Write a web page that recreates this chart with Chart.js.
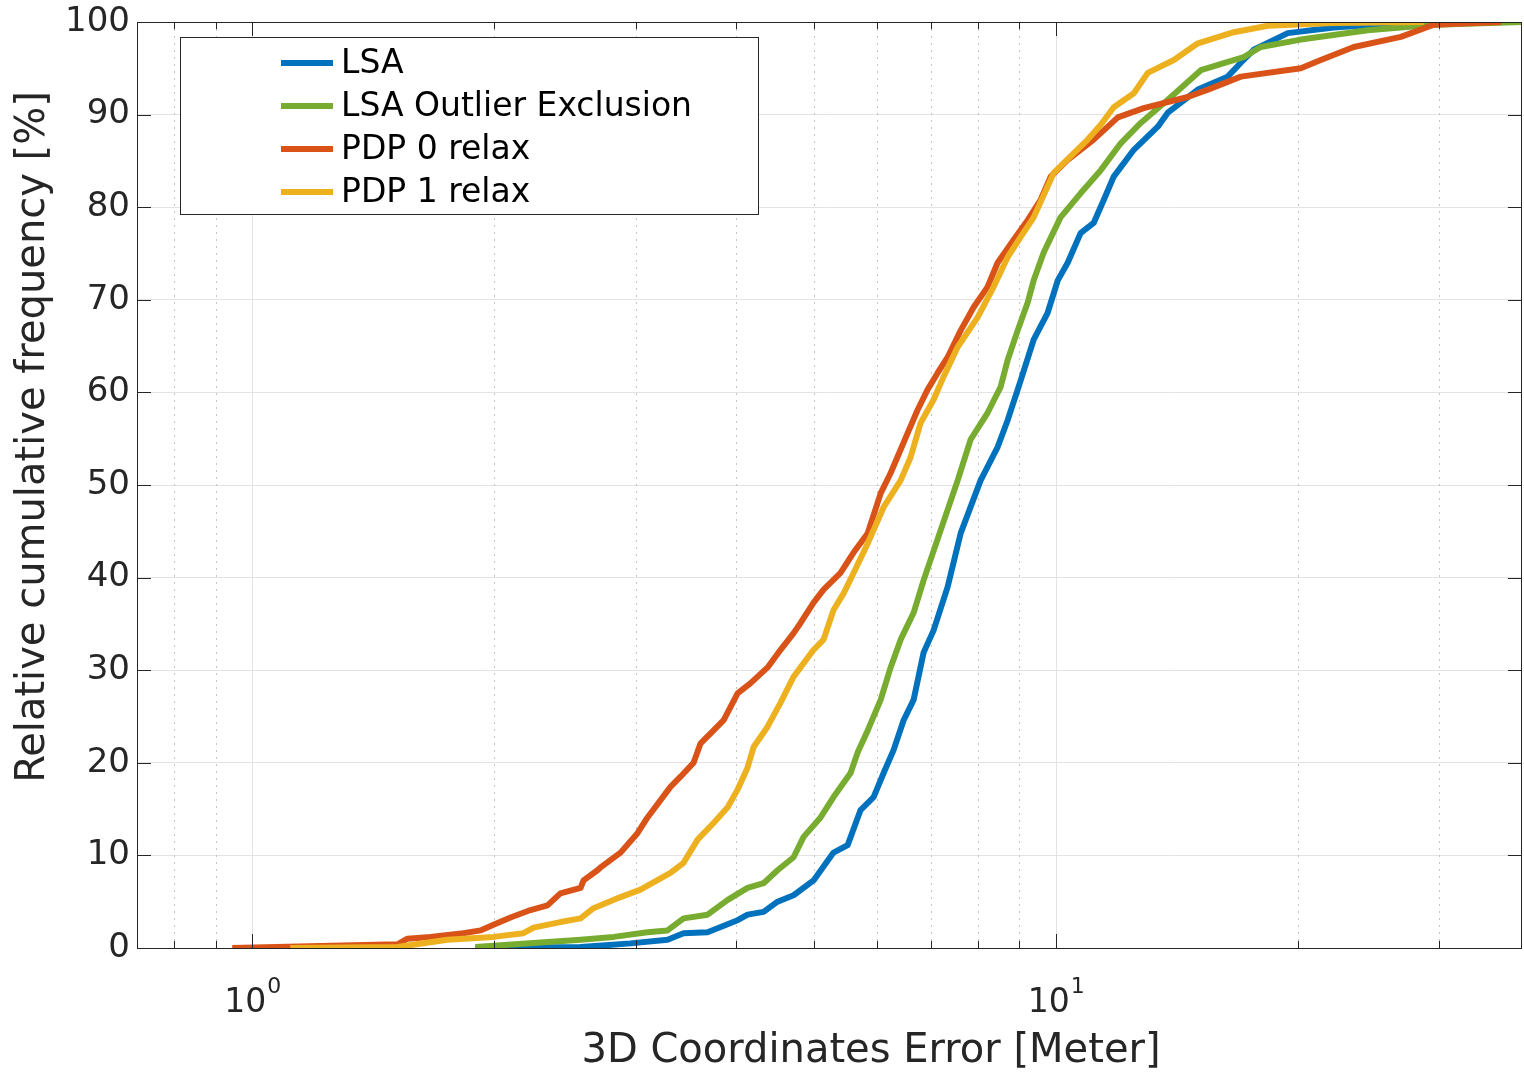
<!DOCTYPE html>
<html>
<head>
<meta charset="utf-8">
<script src="https://cdn.jsdelivr.net/npm/chart.js@4"></script>
<style>
  html, body { margin: 0; padding: 0; background: #fff; }
  canvas { display: block; }
</style>
</head>
<body>
<canvas id="cdfChart" width="1524" height="1072"></canvas>
<script>
// CDF curves (x = error in meters, y = cumulative %)
const lsaX = [1.895, 2.562, 2.956, 3.287, 3.442, 3.687, 4.018, 4.135, 4.329, 4.506, 4.718, 4.996, 5.290, 5.508, 5.716, 5.934, 6.107, 6.285, 6.467, 6.655, 6.848, 7.047, 7.337, 7.617, 8.064, 8.467, 8.714, 9.046, 9.389, 9.772, 10.06, 10.35, 10.74, 11.15, 11.48, 11.81, 12.51, 13.40, 13.79, 15.03, 16.37, 17.00, 17.64, 19.45, 22.19, 26.89, 29.72];
const lsaY = [0, 0.1, 0.5, 0.9, 1.6, 1.7, 3.0, 3.6, 3.9, 5.0, 5.7, 7.3, 10.3, 11.1, 14.9, 16.3, 18.9, 21.4, 24.6, 26.8, 31.9, 34.3, 39.0, 44.8, 50.5, 54.1, 57.0, 61.3, 65.7, 68.6, 72.1, 74.0, 77.2, 78.3, 80.8, 83.3, 86.2, 88.7, 90.2, 92.7, 94.1, 95.6, 97.0, 98.8, 99.4, 99.9, 100];

const lsaOeX = [1.895, 2.562, 2.817, 3.104, 3.287, 3.442, 3.687, 3.906, 4.135, 4.329, 4.506, 4.718, 4.855, 5.097, 5.290, 5.555, 5.668, 5.835, 6.055, 6.231, 6.412, 6.655, 6.848, 7.190, 7.551, 7.836, 8.227, 8.541, 8.714, 8.968, 9.229, 9.389, 9.662, 10.14, 10.74, 11.38, 12.05, 12.76, 13.79, 15.16, 17.14, 18.00, 20.19, 24.46, 29.55, 38.06];
const lsaOeY = [0.1, 0.9, 1.2, 1.7, 1.9, 3.2, 3.6, 5.2, 6.5, 7.0, 8.4, 9.8, 12.0, 14.1, 16.3, 18.9, 21.1, 23.5, 26.8, 30.3, 33.3, 36.2, 39.7, 45.1, 50.5, 54.9, 57.8, 60.6, 63.5, 66.7, 69.7, 72.1, 75.1, 78.9, 81.5, 84.0, 86.9, 89.1, 91.6, 94.8, 96.2, 97.3, 98.1, 99.1, 99.7, 100];

const pdp0X = [0.944, 1.516, 1.560, 1.666, 1.831, 1.923, 1.996, 2.096, 2.220, 2.330, 2.418, 2.562, 2.584, 2.689, 2.713, 2.873, 3.016, 3.104, 3.315, 3.412, 3.542, 3.614, 3.751, 3.861, 4.018, 4.171, 4.379, 4.545, 4.718, 4.813, 4.996, 5.141, 5.397, 5.603, 5.835, 6.055, 6.231, 6.542, 6.731, 6.927, 7.129, 7.337, 7.617, 7.904, 8.227, 8.467, 8.866, 9.229, 9.579, 9.858, 10.35, 11.15, 11.95, 12.87, 14.60, 15.47, 17.00, 20.19, 21.38, 23.50, 26.89, 29.55, 35.84];
const pdp0Y = [0, 0.4, 1.0, 1.2, 1.6, 1.9, 2.5, 3.3, 4.1, 4.6, 5.9, 6.5, 7.3, 8.4, 8.7, 10.3, 12.4, 14.1, 17.4, 18.5, 20.0, 22.1, 23.5, 24.6, 27.5, 28.6, 30.3, 32.2, 34.0, 35.1, 37.3, 38.7, 40.5, 42.7, 44.8, 49.1, 51.3, 55.6, 58.1, 60.3, 62.1, 63.8, 66.7, 69.2, 71.4, 74.0, 76.5, 78.6, 80.8, 83.3, 85.1, 87.3, 89.7, 90.7, 91.9, 92.7, 94.1, 95.0, 95.9, 97.3, 98.4, 99.7, 100];

const pdp1X = [1.115, 1.516, 1.749, 1.996, 2.175, 2.239, 2.418, 2.562, 2.659, 2.873, 3.042, 3.315, 3.442, 3.583, 3.751, 3.906, 4.018, 4.135, 4.207, 4.379, 4.545, 4.718, 4.813, 4.996, 5.141, 5.290, 5.445, 5.603, 5.835, 6.107, 6.412, 6.598, 6.790, 7.047, 7.253, 7.551, 7.995, 8.371, 8.714, 9.046, 9.389, 9.943, 10.96, 11.38, 11.81, 12.51, 13.02, 14.03, 15.03, 16.66, 18.37, 22.19, 28.72];
const pdp1Y = [0, 0.1, 0.9, 1.2, 1.6, 2.2, 2.8, 3.2, 4.3, 5.5, 6.3, 8.1, 9.2, 11.7, 13.5, 15.2, 17.1, 19.5, 21.7, 23.9, 26.5, 29.3, 30.3, 32.2, 33.3, 36.5, 38.3, 40.5, 43.7, 47.6, 50.5, 53.0, 56.7, 59.2, 61.7, 64.9, 68.1, 71.4, 74.6, 76.8, 78.9, 83.7, 87.3, 88.9, 90.8, 92.3, 94.5, 95.9, 97.7, 98.9, 99.6, 99.9, 100];

const seriesNames = ['LSA', 'LSA Outlier Exclusion', 'PDP 0 relax', 'PDP 1 relax'];
const seriesColors = ['#0072BD', '#77AC30', '#D95319', '#EDB120'];

const xMin = 0.7185, xMax = 38.06;
const xMajor = [1, 10];
const xMinor = [0.8, 0.9, 2, 3, 4, 5, 6, 7, 8, 9, 20, 30];
const yTicks = [0, 10, 20, 30, 40, 50, 60, 70, 80, 90, 100];

const FONT = "'DejaVu Sans', Verdana, sans-serif";
const AXIS_COLOR = '#262626';

function toPoints(xs, ys) {
  return xs.map((x, i) => ({ x: x, y: ys[i] }));
}

const allX = [lsaX, lsaOeX, pdp0X, pdp1X];
const allY = [lsaY, lsaOeY, pdp0Y, pdp1Y];

const datasets = seriesNames.map((name, i) => ({
  label: name,
  data: toPoints(allX[i], allY[i]),
  borderColor: seriesColors[i],
  backgroundColor: seriesColors[i],
  borderWidth: 6,
  borderCapStyle: 'butt',
  borderJoinStyle: 'round',
  pointRadius: 0,
  showLine: true,
  tension: 0,
  order: 4 - i   // yellow on top, blue at the bottom
}));

// x grid lines (solid decades, dotted minors) behind the curves
const xGridPlugin = {
  id: 'xGrid',
  beforeDatasetsDraw(chart) {
    const { ctx, chartArea: a, scales: { x } } = chart;
    ctx.save();
    ctx.lineWidth = 1;
    xMinor.forEach(v => {
      const px = Math.round(x.getPixelForValue(v)) + 0.5;
      ctx.strokeStyle = '#c4c4c4';
      ctx.setLineDash([2, 5]);
      ctx.beginPath();
      ctx.moveTo(px, a.top);
      ctx.lineTo(px, a.bottom);
      ctx.stroke();
    });
    ctx.setLineDash([]);
    xMajor.forEach(v => {
      const px = Math.round(x.getPixelForValue(v)) + 0.5;
      ctx.strokeStyle = '#e3e3e3';
      ctx.beginPath();
      ctx.moveTo(px, a.top);
      ctx.lineTo(px, a.bottom);
      ctx.stroke();
    });
    ctx.restore();
  }
};

// box, inward ticks, x labels with exponents, axis titles, legend
const decorPlugin = {
  id: 'decor',
  afterDatasetsDraw(chart) {
    const { ctx, chartArea: a, scales: { x, y } } = chart;
    ctx.save();

    // axes box
    ctx.strokeStyle = AXIS_COLOR;
    ctx.lineWidth = 1;
    ctx.strokeRect(a.left + 0.5, a.top + 0.5, a.right - a.left - 1, a.bottom - a.top);

    // ticks
    ctx.beginPath();
    const tick = (v, len) => {
      const px = Math.round(x.getPixelForValue(v)) + 0.5;
      ctx.moveTo(px, a.bottom); ctx.lineTo(px, a.bottom - len);
      ctx.moveTo(px, a.top); ctx.lineTo(px, a.top + len);
    };
    xMajor.forEach(v => tick(v, 14));
    xMinor.forEach(v => tick(v, 7));
    yTicks.forEach(v => {
      const py = Math.round(y.getPixelForValue(v)) + 0.5;
      ctx.moveTo(a.left, py); ctx.lineTo(a.left + 14, py);
      ctx.moveTo(a.right, py); ctx.lineTo(a.right - 14, py);
    });
    ctx.stroke();

    // x tick labels 10^0, 10^1
    ctx.fillStyle = AXIS_COLOR;
    ctx.textBaseline = 'alphabetic';
    ctx.textAlign = 'left';
    xMajor.forEach(v => {
      const exp = String(Math.round(Math.log10(v)));
      ctx.font = '33px ' + FONT;
      const wBase = ctx.measureText('10').width;
      ctx.font = '22px ' + FONT;
      const wExp = ctx.measureText(exp).width;
      const px = x.getPixelForValue(v);
      const start = px - (wBase + wExp) / 2;
      ctx.font = '33px ' + FONT;
      ctx.fillText('10', start, 1012);
      ctx.font = '22px ' + FONT;
      ctx.fillText(exp, start + wBase + 1, 993);
    });

    // axis titles
    ctx.font = '40px ' + FONT;
    ctx.textAlign = 'center';
    ctx.textBaseline = 'middle';
    ctx.fillText('3D Coordinates Error [Meter]', 871, 1052);
    ctx.save();
    ctx.translate(34, 437);
    ctx.rotate(-Math.PI / 2);
    ctx.fillText('Relative cumulative frequency [%]', 0, 0);
    ctx.restore();

    // legend
    ctx.fillStyle = '#fff';
    ctx.fillRect(180, 37, 578, 177);
    ctx.strokeStyle = AXIS_COLOR;
    ctx.lineWidth = 1;
    ctx.strokeRect(180.5, 37.5, 578, 177);
    ctx.font = '33px ' + FONT;
    ctx.textAlign = 'left';
    ctx.textBaseline = 'middle';
    chart.data.datasets.forEach((ds, i) => {
      const ly = 63 + i * 43;
      ctx.strokeStyle = ds.borderColor;
      ctx.lineWidth = 6;
      ctx.beginPath();
      ctx.moveTo(281, ly);
      ctx.lineTo(333, ly);
      ctx.stroke();
      ctx.fillStyle = '#000';
      ctx.fillText(ds.label, 341, ly + 1);
    });

    ctx.restore();
  }
};

new Chart(document.getElementById('cdfChart').getContext('2d'), {
  type: 'scatter',
  data: { datasets: datasets },
  options: {
    responsive: false,
    animation: false,
    devicePixelRatio: 1,
    layout: { padding: { top: 22, right: 2, bottom: 124, left: 0 } },
    plugins: {
      legend: { display: false },
      tooltip: { enabled: false }
    },
    scales: {
      x: {
        type: 'logarithmic',
        bounds: 'data',
        min: xMin,
        max: xMax,
        display: false
      },
      y: {
        min: 0,
        max: 100,
        afterFit: (scale) => {
          scale.width = 137;
          scale.paddingTop = 0;
          scale.paddingBottom = 0;
        },
        afterBuildTicks: (scale) => { scale.ticks = yTicks.map(v => ({ value: v })); },
        ticks: {
          padding: 7,
          color: AXIS_COLOR,
          font: { family: FONT, size: 34, lineHeight: 1 }
        },
        grid: { color: '#e3e3e3', lineWidth: 1, drawTicks: false },
        border: { display: false }
      }
    }
  },
  plugins: [xGridPlugin, decorPlugin]
});
</script>
</body>
</html>
